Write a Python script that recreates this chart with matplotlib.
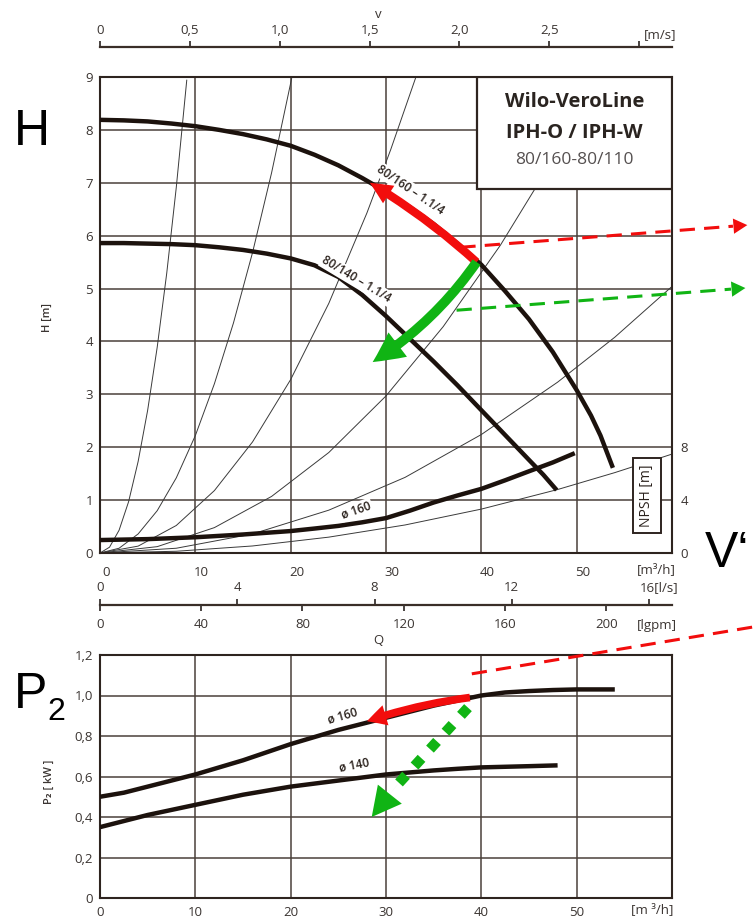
import numpy as np
import matplotlib.pyplot as plt
from matplotlib.patches import FancyArrowPatch, Rectangle
import matplotlib.transforms as mtransforms

plt.rcParams['font.family'] = ['Open Sans', 'DejaVu Sans']

# --- Kennlinien H(Q) [m3/h, m] ---
q_160 = [0, 2.5, 5, 7.5, 10, 12.5, 15, 17.5, 20, 22.5, 25, 27.5, 30, 32.5, 35, 37.5,
         40, 42.5, 45, 47.5, 50, 51.5, 52.5, 53.8]
h_160 = [8.19, 8.18, 8.16, 8.12, 8.07, 8.00, 7.92, 7.82, 7.70, 7.53, 7.33, 7.09, 6.83, 6.54,
         6.22, 5.85, 5.45, 4.95, 4.42, 3.80, 3.08, 2.60, 2.22, 1.61]

q_140 = [0, 2.5, 5, 7.5, 10, 12.5, 15, 17.5, 20, 22.5, 25, 27.5, 30, 32.5, 35, 37.5,
         40, 42.5, 45, 46.5, 47.9]
h_140 = [5.86, 5.86, 5.85, 5.84, 5.82, 5.78, 5.73, 5.66, 5.57, 5.44, 5.22, 4.88, 4.48, 4.05,
         3.62, 3.17, 2.70, 2.23, 1.76, 1.48, 1.19]

# NPSH (rechte Achse, m)
q_npsh = [0, 5, 10, 15, 20, 22.5, 25, 27.5, 30, 32.5, 35, 37.5, 40, 42.5, 45, 47.5, 49.8]
npsh = [0.98, 1.05, 1.19, 1.40, 1.66, 1.85, 2.05, 2.32, 2.64, 3.2, 3.82, 4.35, 4.85, 5.5,
        6.18, 6.85, 7.55]

# Anlagenkennlinien (duenn)
sys_q = [
    [0, 1, 2, 3, 4, 5, 6, 7, 8, 9.1],
    [0, 2, 4, 6, 8, 10, 12, 14, 16, 18, 20.1],
    [0, 4, 8, 12, 16, 20, 24, 28, 30.5, 33.1],
    [0, 6, 12, 18, 24, 30, 36, 42, 47, 52.2],
    [0, 8, 16, 24, 32, 40, 48, 54, 60],
    [0, 8, 16, 24, 32, 40, 48, 54, 60],
]
sys_h = [
    [0, 0.11, 0.43, 0.97, 1.73, 2.7, 3.89, 5.29, 6.91, 8.94],
    [0, 0.09, 0.36, 0.8, 1.42, 2.22, 3.2, 4.35, 5.68, 7.19, 8.97],
    [0, 0.13, 0.52, 1.18, 2.1, 3.28, 4.72, 6.43, 7.63, 8.98],
    [0, 0.12, 0.48, 1.07, 1.9, 2.97, 4.28, 5.82, 7.29, 8.99],
    [0, 0.09, 0.36, 0.81, 1.43, 2.24, 3.23, 4.08, 5.04],
    [0, 0.033, 0.133, 0.3, 0.53, 0.83, 1.2, 1.52, 1.87],
]

# --- Leistung P2(Q) [kW] ---
q_p160 = [0, 2.5, 5, 7.5, 10, 12.5, 15, 17.5, 20, 22.5, 25, 27.5, 30, 32.5, 35, 37.5,
          40, 42.5, 45, 47.5, 50, 54]
p_160 = [0.50, 0.52, 0.55, 0.58, 0.61, 0.645, 0.68, 0.72, 0.76, 0.795, 0.83, 0.86, 0.89,
         0.92, 0.95, 0.975, 1.0, 1.015, 1.022, 1.027, 1.03, 1.03]
q_p140 = [0, 2.5, 5, 7.5, 10, 12.5, 15, 17.5, 20, 22.5, 25, 27.5, 30, 32.5, 35, 37.5,
          40, 42.5, 45, 48]
p_140 = [0.35, 0.38, 0.41, 0.435, 0.46, 0.485, 0.51, 0.53, 0.55, 0.565, 0.58, 0.595, 0.61,
         0.62, 0.63, 0.638, 0.645, 0.648, 0.651, 0.655]

# Achsen
q_ticks = [0, 10, 20, 30, 40, 50]
h_ticks = list(range(0, 10))
npsh_ticks = [0, 4, 8]
p_ticks = [0, 0.2, 0.4, 0.6, 0.8, 1.0, 1.2]
p_labels = ['0', '0,2', '0,4', '0,6', '0,8', '1,0', '1,2']
v_ticks = [0, 0.5, 1.0, 1.5, 2.0, 2.5, 3.0]
v_labels = ['0', '0,5', '1,0', '1,5', '2,0', '2,5', '']
ls_ticks = [0, 4, 8, 12, 16]
ls_labels = ['0', '4', '8', '12', '']
lg_ticks = [0, 40, 80, 120, 160, 200]
Q_PER_V = 18.85      # m3/h je m/s
Q_PER_LS = 3.6       # m3/h je l/s
Q_PER_LGPM = 0.2655  # m3/h je lgpm

RED = '#f20d0d'
GREEN = '#10b414'
INK = '#1c120d'
GRID = '#4a403a'
TXT = '#3a3431'

W, H = 754, 921
fig = plt.figure(figsize=(W / 100, H / 100), dpi=100)


def box(l, t, r, b):
    return [l / W, 1 - b / H, (r - l) / W, (b - t) / H]


def style(ax):
    for s in ax.spines.values():
        s.set_color('#2e241f')
        s.set_linewidth(1.5)
    ax.grid(True, color=GRID, lw=1.1)
    ax.set_axisbelow(True)


def dashed_arrow(ax, p0, p1, color, head=True):
    base = (p1[0] - 0.05 * (p1[0] - p0[0]), p1[1] - 0.05 * (p1[1] - p0[1]))
    end = base if head else p1
    ax.plot([p0[0], end[0]], [p0[1], end[1]], color=color, lw=2.2,
            ls=(0, (5, 3)), clip_on=False, zorder=6)
    if head:
        ax.add_patch(FancyArrowPatch(base, p1, arrowstyle='simple,head_length=10,head_width=11,tail_width=0.01',
                                     color=color, lw=0, clip_on=False, zorder=6, shrinkA=0, shrinkB=0))


# ================= H-Diagramm =================
axH = fig.add_axes(box(100, 77, 672, 553))
style(axH)
axH.set_xlim(0, 60)
axH.set_ylim(0, 9)
axH.set_xticks(q_ticks)
axH.set_yticks(h_ticks)
axH.tick_params(length=0, labelsize=9.5, colors=TXT)
axH.tick_params(axis='x', pad=9)
axH.tick_params(axis='y', pad=5)
off = mtransforms.ScaledTranslation(0.06, 0, fig.dpi_scale_trans)
for lab in axH.get_xticklabels():
    lab.set_transform(lab.get_transform() + off)

for qs, hs in zip(sys_q, sys_h):
    axH.plot(qs, hs, color='#3a3a3a', lw=0.7, zorder=2)

axH.plot(q_160, h_160, color=INK, lw=3.2, solid_capstyle='butt', zorder=4)
axH.plot(q_140, h_140, color=INK, lw=3.2, solid_capstyle='butt', zorder=4)

lab_kw = dict(ha='center', va='center', rotation_mode='anchor', fontsize=8.5,
              fontweight='semibold', color='#2a211c', zorder=5,
              bbox=dict(boxstyle='square,pad=0.1', fc='white', ec='none'))
axH.text(32.6, 6.86, '80/160 – 1.1/4', rotation=-34, **lab_kw)
axH.text(26.9, 5.17, '80/140 – 1.1/4', rotation=-31, **lab_kw)

# NPSH
axN = axH.twinx()
axN.set_ylim(0, 36)
axN.set_yticks(npsh_ticks)
axN.tick_params(length=0, labelsize=9.5, colors=TXT, pad=6)
for s in axN.spines.values():
    s.set_visible(False)
axN.plot(q_npsh, npsh, color=INK, lw=3.2, solid_capstyle='butt', zorder=4)
axN.text(26.9, 3.25, 'ø 160', rotation=19, **lab_kw)
axN.text(0.956, 0.12, 'NPSH [m]', transform=axH.transAxes, rotation=90,
         ha='center', va='center', fontsize=10, color='#2a211c',
         bbox=dict(boxstyle='square,pad=0.45', fc='white', ec='#2e241f', lw=1.4))

# Typenschild
axH.add_patch(Rectangle((0.659, 0.765), 0.341, 0.235, transform=axH.transAxes,
                        fc='white', ec='#2e241f', lw=1.6, zorder=5))
axH.text(0.83, 0.948, 'Wilo-VeroLine', transform=axH.transAxes, ha='center', va='center',
         fontsize=14.5, fontweight='bold', color='#2a2420', zorder=6)
axH.text(0.83, 0.882, 'IPH-O / IPH-W', transform=axH.transAxes, ha='center', va='center',
         fontsize=14.5, fontweight='bold', color='#2a2420', zorder=6)
axH.text(0.83, 0.826, '80/160-80/110', transform=axH.transAxes, ha='center', va='center',
         fontsize=12.5, color='#555050', zorder=6)

# Pfeile
axH.add_patch(FancyArrowPatch((39.5, 5.5), (28.3, 7.0), connectionstyle='arc3,rad=0.05',
                              arrowstyle='simple,head_length=16,head_width=15,tail_width=6',
                              color=RED, lw=0, shrinkA=0, shrinkB=0, zorder=7))
axH.add_patch(FancyArrowPatch((39.5, 5.5), (28.6, 3.61), connectionstyle='arc3,rad=-0.1',
                              arrowstyle='simple,head_length=22,head_width=22,tail_width=7',
                              color=GREEN, lw=0, shrinkA=0, shrinkB=0, zorder=7))
dashed_arrow(axH, (37.8, 5.78), (67.9, 6.20), RED)
dashed_arrow(axH, (37.4, 4.59), (67.7, 5.01), GREEN)

# ================= Geschwindigkeitsachse oben =================
axV = fig.add_axes([100 / W, 1 - 47 / H, 572 / W, 0.0001])
axV.patch.set_visible(False)
for s in ['left', 'right', 'bottom']:
    axV.spines[s].set_visible(False)
axV.spines['top'].set_linewidth(1.6)
axV.spines['top'].set_color('#3a2e28')
axV.set_yticks([])
axV.set_xlim(0, 60 / Q_PER_V)
axV.xaxis.set_ticks_position('top')
axV.set_xticks(v_ticks)
axV.set_xticklabels(v_labels)
axV.tick_params(axis='x', direction='out', length=4, width=1.3, pad=3,
                labelsize=9.5, colors=TXT)
fig.text(676 / W, 1 - 35 / H, '[m/s]', ha='right', va='center', fontsize=9.5, color=TXT)
fig.text(378 / W, 1 - 14 / H, 'v', ha='center', va='center', fontsize=9.5, color=TXT)

# ================= Q-Achsen (l/s, lgpm) =================
axLs = fig.add_axes([100 / W, 1 - 605 / H, 572 / W, 0.0001])
axLs.patch.set_visible(False)
for s in ['left', 'right', 'bottom']:
    axLs.spines[s].set_visible(False)
axLs.spines['top'].set_linewidth(1.6)
axLs.spines['top'].set_color('#3a2e28')
axLs.set_yticks([])
axLs.set_xlim(0, 60 / Q_PER_LS)
axLs.xaxis.set_ticks_position('top')
axLs.set_xticks(ls_ticks)
axLs.set_xticklabels(ls_labels)
axLs.tick_params(axis='x', direction='out', length=4, width=1.3, pad=4,
                 labelsize=9.5, colors=TXT)

axLg = fig.add_axes([100 / W, 1 - 605 / H, 572 / W, 0.0001])
axLg.patch.set_visible(False)
for s in axLg.spines.values():
    s.set_visible(False)
axLg.set_yticks([])
axLg.set_xlim(0, 60 / Q_PER_LGPM)
axLg.set_xticks(lg_ticks)
axLg.tick_params(axis='x', direction='out', length=4, width=1.3, pad=5,
                 labelsize=9.5, colors=TXT)

fig.text(676 / W, 1 - 570 / H, '[m³/h]', ha='right', va='center', fontsize=9.5, color=TXT)
fig.text(678 / W, 1 - 588 / H, '16[l/s]', ha='right', va='center', fontsize=9.5, color=TXT)
fig.text(677 / W, 1 - 625 / H, '[lgpm]', ha='right', va='center', fontsize=9.5, color=TXT)
fig.text(378 / W, 1 - 641 / H, 'Q', ha='center', va='center', fontsize=9.5, color=TXT)

# ================= P2-Diagramm =================
axP = fig.add_axes(box(100, 655, 672, 898))
style(axP)
axP.set_xlim(0, 60)
axP.set_ylim(0, 1.2)
axP.set_xticks(q_ticks)
axP.set_yticks(p_ticks)
axP.set_yticklabels(p_labels)
axP.tick_params(length=0, labelsize=9.5, colors=TXT)
axP.tick_params(axis='x', pad=6)
axP.tick_params(axis='y', pad=5)

axP.plot(q_p160, p_160, color=INK, lw=3.2, solid_capstyle='butt', zorder=4)
axP.plot(q_p140, p_140, color=INK, lw=3.2, solid_capstyle='butt', zorder=4)
axP.text(25.4, 0.90, 'ø 160', rotation=16, **lab_kw)
axP.text(26.7, 0.655, 'ø 140', rotation=11, **lab_kw)

axP.add_patch(FancyArrowPatch((38.8, 0.99), (28.0, 0.873), connectionstyle='arc3,rad=0.05',
                              arrowstyle='simple,head_length=14,head_width=15,tail_width=5.5',
                              color=RED, lw=0, shrinkA=0, shrinkB=0, zorder=7))
axP.plot([38.6, 31.2], [0.94, 0.56], color=GREEN, lw=7.5, ls=(0, (1, 1.2)),
         dash_capstyle='butt', zorder=7)
axP.add_patch(FancyArrowPatch((31.2, 0.56), (28.5, 0.40),
                              arrowstyle='simple,head_length=21,head_width=22,tail_width=0.01',
                              color=GREEN, lw=0, shrinkA=0, shrinkB=0, zorder=7))
dashed_arrow(axP, (39.0, 1.107), (70.0, 1.35), RED, head=False)

fig.text(673 / W, 1 - 910 / H, '[m ³/h]', ha='right', va='center', fontsize=9.5, color=TXT)

# Achsbeschriftungen
fig.text(47 / W, 1 - 318 / H, 'H [m]', rotation=90, ha='center', va='center',
         fontsize=8, fontweight='semibold', color=TXT)
fig.text(49 / W, 1 - 782 / H, 'P₂ [ kW ]', rotation=90, ha='center', va='center',
         fontsize=8, fontweight='semibold', color=TXT)

# Grosse Buchstaben
big = dict(family=['Liberation Sans', 'DejaVu Sans'], color='black')
fig.text(14 / W, 1 - 145 / H, 'H', fontsize=36, ha='left', va='baseline', **big)
fig.text(14 / W, 1 - 708 / H, 'P', fontsize=36, ha='left', va='baseline', **big)
fig.text(47 / W, 1 - 720 / H, '2', fontsize=23, ha='left', va='baseline', **big)
fig.text(705 / W, 1 - 567 / H, 'V‘', fontsize=36, ha='left', va='baseline', **big)

fig.savefig('out.png', dpi=100)
